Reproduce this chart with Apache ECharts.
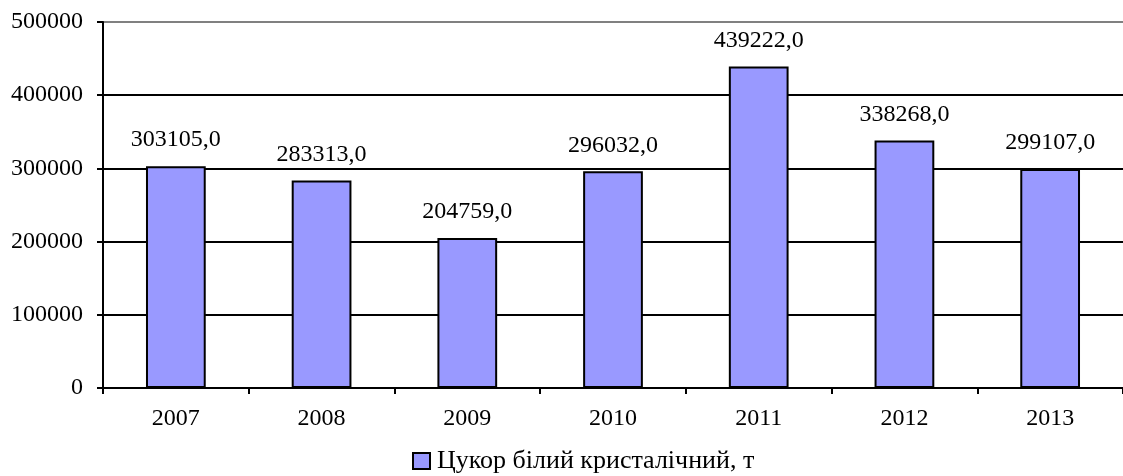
<!DOCTYPE html>
<html>
<head>
<meta charset="utf-8">
<script src="https://cdn.jsdelivr.net/npm/echarts@6/dist/echarts.min.js"></script>
<style>
  html, body { margin: 0; padding: 0; background: #fff; }
  #chart { width: 1123px; height: 476px; }
</style>
</head>
<body>
<div id="chart"></div>
<script>
// Виробництво цукру білого кристалічного, т
const years = ['2007', '2008', '2009', '2010', '2011', '2012', '2013'];
const sugarTonnes = [303105.0, 283313.0, 204759.0, 296032.0, 439222.0, 338268.0, 299107.0];
const seriesName = 'Цукор білий кристалічний, т';

const FONT = '"Liberation Serif", "Times New Roman", serif';
const chart = echarts.init(document.getElementById('chart'), null, { renderer: 'canvas' });

chart.setOption({
  animation: false,
  backgroundColor: '#ffffff',
  textStyle: { fontFamily: FONT },
  grid: { left: 103, right: 0, top: 22, bottom: 88, containLabel: false },
  legend: {
    bottom: 2,
    left: 412,
    padding: 0,
    itemWidth: 17,
    itemHeight: 16,
    itemGap: 4,
    icon: 'rect',
    textStyle: { fontFamily: FONT, fontSize: 26, color: '#000', padding: [0, 0, 0, 2] },
    data: [{ name: seriesName, itemStyle: { borderColor: '#000', borderWidth: 2 } }]
  },
  xAxis: {
    type: 'category',
    data: years,
    axisLine: { lineStyle: { color: '#000', width: 2 } },
    axisTick: { show: true, length: 6, lineStyle: { color: '#000', width: 2 } },
    axisLabel: { fontFamily: FONT, fontSize: 24, color: '#000', margin: 19 }
  },
  yAxis: {
    type: 'value',
    min: 0,
    max: 500000,
    interval: 100000,
    axisLine: { show: true, lineStyle: { color: '#000', width: 2 } },
    axisTick: { show: true, length: 6, lineStyle: { color: '#000', width: 2 } },
    axisLabel: {
      fontFamily: FONT, fontSize: 24, color: '#000', margin: 20,
      formatter: v => String(v)
    },
    splitLine: {
      show: true,
      lineStyle: {
        width: 2,
        color: ['#000', '#000', '#000', '#000', '#000', '#808080']
      }
    }
  },
  series: [{
    name: seriesName,
    type: 'bar',
    data: sugarTonnes,
    barWidth: '41%',
    itemStyle: { color: '#9999ff', borderColor: '#000', borderWidth: 2 },
    label: {
      show: true,
      position: 'top',
      distance: 14,
      fontFamily: FONT,
      fontSize: 24,
      color: '#000',
      formatter: p => p.value.toFixed(1).replace('.', ',')
    }
  }]
});
</script>
</body>
</html>
